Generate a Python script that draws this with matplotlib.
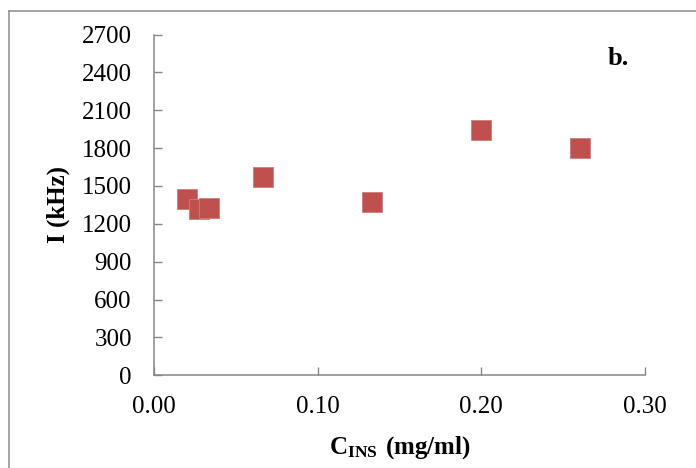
import matplotlib
matplotlib.use('Agg')
import matplotlib.pyplot as plt
from matplotlib.lines import Line2D

# concentration (mg/ml) and intensity (kHz)
conc = [0.020, 0.0275, 0.0333, 0.0667, 0.133, 0.200, 0.260]
intensity = [1395, 1320, 1325, 1572, 1372, 1944, 1804]

yticks = [0, 300, 600, 900, 1200, 1500, 1800, 2100, 2400, 2700]
xticks = [0.0, 0.1, 0.2, 0.3]

plt.rcParams['font.family'] = ['Liberation Serif', 'DejaVu Serif']
plt.rcParams['mathtext.fontset'] = 'custom'
plt.rcParams['mathtext.rm'] = 'Liberation Serif'
plt.rcParams['mathtext.bf'] = 'Liberation Serif:bold'

axis_grey = '#868686'

fig = plt.figure(figsize=(6.96, 4.68), dpi=100)
ax = fig.add_axes([154 / 696, 1 - 375.3 / 468, 491 / 696, 340.8 / 468])

ax.plot(conc, intensity, linestyle='none', marker='s', markersize=14.4,
        markerfacecolor='#C0504D', markeredgecolor='#D07B79', markeredgewidth=0.6)

ax.set_xlim(0, 0.3)
ax.set_ylim(0, 2700)
ax.set_xticks(xticks)
ax.set_xticklabels(['%.2f' % v for v in xticks])
ax.set_yticks(yticks)
ax.tick_params(direction='in', length=5.5, width=1, color=axis_grey, labelsize=18)
ax.tick_params(axis='y', pad=16)
ax.tick_params(axis='x', pad=15)

for side in ['top', 'right']:
    ax.spines[side].set_visible(False)
for side in ['left', 'bottom']:
    ax.spines[side].set_color(axis_grey)
    ax.spines[side].set_linewidth(1.1)

ax.set_ylabel('I (kHz)', fontsize=18, fontweight='bold')
ax.yaxis.set_label_coords(-0.172, 0.5)
ax.set_xlabel(r'$\mathbf{C_{INS}\ (mg/ml)}$', fontsize=18)
ax.xaxis.set_label_coords(0.5, -0.172)

ax.text(0.945, 0.93, 'b.', transform=ax.transAxes, fontsize=19,
        fontweight='bold', ha='center', va='center')

# outer frame (only left and top edges visible in the crop)
fig.add_artist(Line2D([9 / 696, 9 / 696], [0, 1 - 11 / 468], transform=fig.transFigure,
                      color='#8c8c8c', linewidth=1.1))
fig.add_artist(Line2D([9 / 696, 1], [1 - 11 / 468, 1 - 11 / 468], transform=fig.transFigure,
                      color='#8c8c8c', linewidth=1.1))

fig.savefig('out.png', dpi=100)
